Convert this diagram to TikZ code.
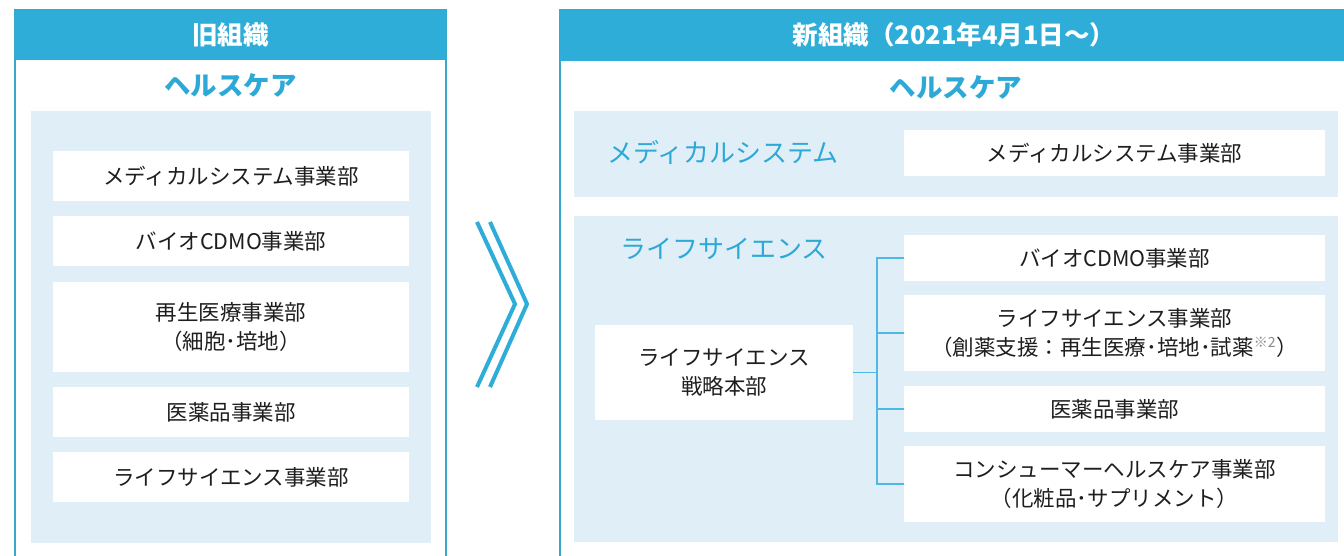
\documentclass[tikz,border=0pt]{standalone}
\usepackage{fontspec}
\setmainfont{Noto Sans CJK JP}
\definecolor{hdr}{HTML}{2DADD8}
\definecolor{pale}{HTML}{E0EEF7}
\definecolor{bluetxt}{HTML}{2CA9D7}
\definecolor{frame}{HTML}{36A9CB}
\definecolor{conn}{HTML}{4DB9E4}
\definecolor{ink}{HTML}{1E1E1E}
\definecolor{supgray}{HTML}{8A8A8A}
\tikzset{
  wbox/.style={fill=white, inner sep=0pt, align=center, text=ink, font=\fontsize{21.5}{29}\selectfont},
  hdrtext/.style={text=white, font=\fontsize{25.5}{28}\selectfont\bfseries},
  sect/.style={text=bluetxt, font=\fontsize{26.5}{28}\selectfont\bfseries},
  subsect/.style={text=bluetxt, font=\fontsize{26}{28}\selectfont},
  connline/.style={draw=conn, line width=1.1pt},
  chev/.style={draw=hdr, line width=4pt},
  framel/.style={draw=frame, line width=1.3pt}
}
\begin{document}
\begin{tikzpicture}[x=1pt,y=-1pt]
\useasboundingbox (0,0) rectangle (1344,555);
\fill[white] (0,0) rectangle (1344,555);
% left panel
\draw[framel] (15,560) -- (15,10) -- (446,10) -- (446,560);
\fill[hdr] (15,10) rectangle (446,60);
\node[hdrtext] (oldhdr) at (230.5,35) {旧組織};
\node[sect] (oldhc) at (230.5,85) {ヘルスケア};
\fill[pale] (31,111) rectangle (431,543);
\node[wbox, minimum width=356pt, minimum height=50pt] (o1) at (231,176) {メディカルシステム事業部};
\node[wbox, minimum width=356pt, minimum height=50pt] (o2) at (231,241) {バイオCDMO事業部};
\node[wbox, minimum width=356pt, minimum height=90pt] (o3) at (231,327) {再生医療事業部\\（細胞･培地）};
\node[wbox, minimum width=356pt, minimum height=50pt] (o4) at (231,412) {医薬品事業部};
\node[wbox, minimum width=356pt, minimum height=50pt] (o5) at (231,477) {ライフサイエンス事業部};
% chevron
\coordinate (c1a) at (477,222); \coordinate (c1b) at (515,304); \coordinate (c1c) at (477,387);
\coordinate (c2a) at (490,222); \coordinate (c2b) at (527,304); \coordinate (c2c) at (490,387);
\draw[chev] (c1a) -- (c1b) -- (c1c);
\draw[chev] (c2a) -- (c2b) -- (c2c);
% right panel
\draw[framel] (560,560) -- (560,10) -- (1350,10);
\fill[hdr] (560,10) rectangle (1344,61);
\node[hdrtext] (newhdr) at (954,35) {新組織（2021年4月1日〜）};
\node[sect] (newhc) at (956,87) {ヘルスケア};
\fill[pale] (574,111) rectangle (1338,197);
\fill[pale] (574,216) rectangle (1338,542);
\node[subsect] (medlbl) at (723,152) {メディカルシステム};
\node[subsect] (lslbl) at (724,249) {ライフサイエンス};
\node[wbox, minimum width=421pt, minimum height=46pt] (n1) at (1114.5,153) {メディカルシステム事業部};
\node[wbox, minimum width=421pt, minimum height=46pt] (n2) at (1114.5,258) {バイオCDMO事業部};
\node[wbox, minimum width=421pt, minimum height=76pt] (n3) at (1114.5,333) {ライフサイエンス事業部\\（創薬支援：再生医療･培地･試薬\textsuperscript{\textcolor{supgray}{\fontsize{14}{14}\selectfont ※2}}）};
\node[wbox, minimum width=421pt, minimum height=46pt] (n4) at (1114.5,409) {医薬品事業部};
\node[wbox, minimum width=421pt, minimum height=76pt] (n5) at (1114.5,484) {コンシューマーヘルスケア事業部\\（化粧品･サプリメント）};
\node[wbox, minimum width=258pt, minimum height=95pt] (strat) at (724,372.5) {ライフサイエンス\\戦略本部};
% connectors
\coordinate (jx) at (877,0);
\draw[connline] (strat.east) -- (strat.east -| jx);
\draw[connline] (n2.west) -- (n2.west -| jx) -- (n5.west -| jx) -- (n5.west);
\draw[connline] (n3.west) -- (n3.west -| jx);
\draw[connline] (n4.west) -- (n4.west -| jx);
\end{tikzpicture}
\end{document}
